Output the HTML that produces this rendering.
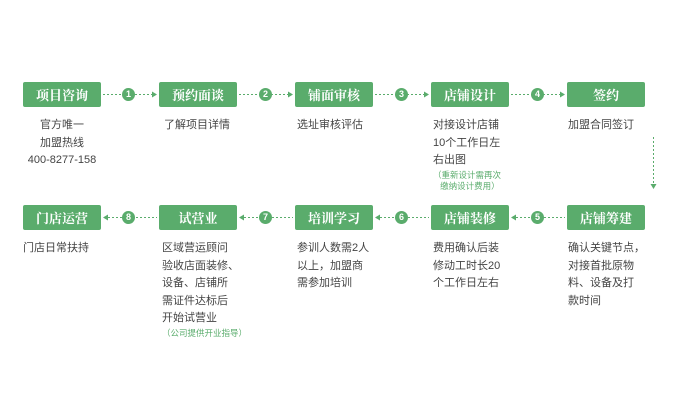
<!DOCTYPE html><html><head><meta charset="utf-8"><style>
body{margin:0;width:676px;height:411px;background:#fff;position:relative;font-family:"Liberation Sans","Noto Sans CJK SC",sans-serif;overflow:hidden}
.b{position:absolute;width:78px;height:25px;background:#5aac6c;border-radius:2px;color:#fff;font-weight:bold;font-size:13px;line-height:25px;text-align:center;font-family:"Noto Serif CJK SC","Noto Sans CJK SC",serif}
.t{position:absolute;font-size:11px;line-height:17.5px;color:#444;width:100px}
.g{color:#5aac6c;font-size:8.5px;line-height:11px}
.c{position:absolute;width:13px;height:13px;border-radius:50%;background:#5aac6c;color:#fff;font-size:9px;font-weight:bold;line-height:13px;text-align:center}
</style></head><body>
<svg width="676" height="411" style="position:absolute;left:0;top:0">
<g stroke="#5aac6c" stroke-width="1" stroke-dasharray="2,2" fill="none">
<line x1="103" y1="94.5" x2="152" y2="94.5"/><line x1="239" y1="94.5" x2="288" y2="94.5"/><line x1="375" y1="94.5" x2="424" y2="94.5"/><line x1="511" y1="94.5" x2="560" y2="94.5"/>
<line x1="108" y1="217.5" x2="157" y2="217.5"/><line x1="244" y1="217.5" x2="293" y2="217.5"/><line x1="380" y1="217.5" x2="429" y2="217.5"/><line x1="516" y1="217.5" x2="565" y2="217.5"/>
<line x1="653.5" y1="137" x2="653.5" y2="184"/>
</g>
<g fill="#5aac6c">
<path d="M152 91.5l5 3-5 3z"/><path d="M288 91.5l5 3-5 3z"/><path d="M424 91.5l5 3-5 3z"/><path d="M560 91.5l5 3-5 3z"/>
<path d="M108 214.5l-5 3 5 3z"/><path d="M244 214.5l-5 3 5 3z"/><path d="M380 214.5l-5 3 5 3z"/><path d="M516 214.5l-5 3 5 3z"/>
<path d="M650.5 184l3 5 3-5z"/>
</g></svg>
<div class="b" style="left:23px;top:82px">项目咨询</div>
<div class="b" style="left:159px;top:82px">预约面谈</div>
<div class="b" style="left:295px;top:82px">铺面审核</div>
<div class="b" style="left:431px;top:82px">店铺设计</div>
<div class="b" style="left:567px;top:82px">签约</div>
<div class="b" style="left:23px;top:205px">门店运营</div>
<div class="b" style="left:159px;top:205px">试营业</div>
<div class="b" style="left:295px;top:205px">培训学习</div>
<div class="b" style="left:431px;top:205px">店铺装修</div>
<div class="b" style="left:567px;top:205px">店铺筹建</div>
<div class="c" style="left:122px;top:88px">1</div><div class="c" style="left:259px;top:88px">2</div><div class="c" style="left:395px;top:88px">3</div><div class="c" style="left:531px;top:88px">4</div>
<div class="c" style="left:122px;top:211px">8</div><div class="c" style="left:259px;top:211px">7</div><div class="c" style="left:395px;top:211px">6</div><div class="c" style="left:531px;top:211px">5</div>
<div class="t" style="left:12px;top:117px;width:100px;text-align:center">官方唯一<br>加盟热线<br>400-8277-158</div>
<div class="t" style="left:164px;top:117px">了解项目详情</div>
<div class="t" style="left:297px;top:117px">选址审核评估</div>
<div class="t" style="left:433px;top:117px">对接设计店铺<br>10个工作日左<br>右出图<div class="g">（重新设计需再次<br>&nbsp;&nbsp;&nbsp;缴纳设计费用）</div></div>
<div class="t" style="left:568px;top:117px">加盟合同签订</div>
<div class="t" style="left:23px;top:240px">门店日常扶持</div>
<div class="t" style="left:162px;top:240px">区域营运顾问<br>验收店面装修、<br>设备、店铺所<br>需证件达标后<br>开始试营业<div class="g">（公司提供开业指导）</div></div>
<div class="t" style="left:297px;top:240px">参训人数需2人<br>以上，加盟商<br>需参加培训</div>
<div class="t" style="left:433px;top:240px">费用确认后装<br>修动工时长20<br>个工作日左右</div>
<div class="t" style="left:568px;top:240px">确认关键节点，<br>对接首批原物<br>料、设备及打<br>款时间</div>
</body></html>
